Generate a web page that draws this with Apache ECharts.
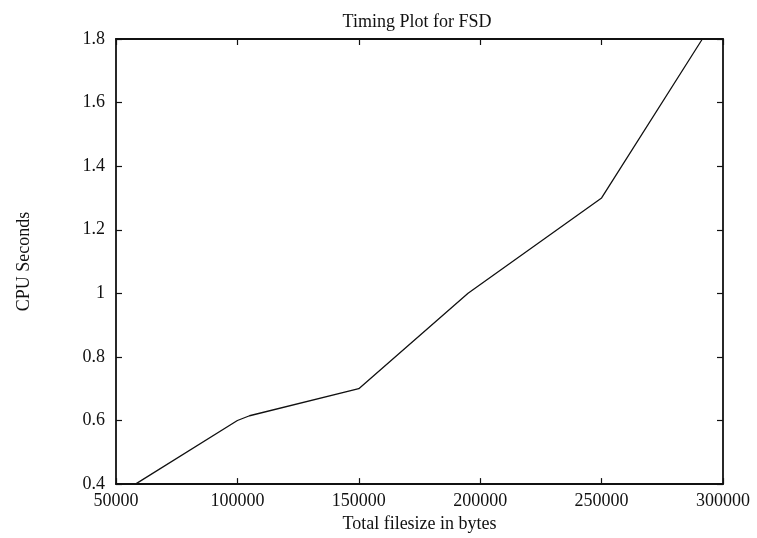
<!DOCTYPE html>
<html>
<head>
<meta charset="utf-8">
<title>Timing Plot for FSD</title>
<script src="https://cdn.jsdelivr.net/npm/echarts@6/dist/echarts.min.js"></script>
<style>
  html, body { margin: 0; padding: 0; background: #fff; }
  #chart { width: 757px; height: 538px; }
</style>
</head>
<body>
<div id="chart"></div>
<script>
// Total file size (bytes) and measured CPU time (seconds)
const fileSizes = [58000, 100000, 105000, 150000, 195000, 250000, 291500];
const cpuSeconds = [0.40, 0.60, 0.615, 0.70, 1.00, 1.30, 1.80];

const xTicks = { min: 50000, max: 300000, interval: 50000 };
const yTicks = { min: 0.4, max: 1.8, interval: 0.2 };

const FONT = '"Liberation Serif", "Times New Roman", serif';
const INK = '#111';

const points = fileSizes.map((x, i) => [x, cpuSeconds[i]]);

const chart = echarts.init(document.getElementById('chart'), null, { renderer: 'canvas' });

const tickStyle = { show: true, inside: true, length: 6, lineStyle: { color: INK, width: 1.2 } };
const frameLine = { show: true, onZero: false, lineStyle: { color: INK, width: 1.8 } };

chart.setOption({
  backgroundColor: '#ffffff',
  animation: false,
  title: {
    text: 'Timing Plot for FSD',
    left: 412,
    textAlign: 'center',
    top: 8,
    textStyle: { fontFamily: FONT, fontSize: 18, fontWeight: 'normal', color: INK }
  },
  grid: { left: 116, right: 34, top: 39, bottom: 48.5, containLabel: false },
  xAxis: [
    {
      type: 'value',
      position: 'bottom',
      min: xTicks.min, max: xTicks.max, interval: xTicks.interval,
      name: 'Total filesize in bytes',
      nameLocation: 'middle',
      nameGap: 25,
      nameTextStyle: { fontFamily: FONT, fontSize: 18, color: INK },
      axisLine: frameLine,
      axisTick: tickStyle,
      axisLabel: {
        margin: 8, fontFamily: FONT, fontSize: 18, color: INK,
        formatter: (v) => String(v)
      },
      splitLine: { show: false }
    },
    {
      type: 'value',
      position: 'top',
      min: xTicks.min, max: xTicks.max, interval: xTicks.interval,
      axisLine: frameLine,
      axisTick: tickStyle,
      axisLabel: { show: false },
      splitLine: { show: false }
    }
  ],
  yAxis: [
    {
      type: 'value',
      position: 'left',
      min: yTicks.min, max: yTicks.max, interval: yTicks.interval,
      name: 'CPU Seconds',
      nameLocation: 'middle',
      nameRotate: 90,
      nameGap: 83,
      nameTextStyle: { fontFamily: FONT, fontSize: 18, color: INK },
      axisLine: frameLine,
      axisTick: tickStyle,
      axisLabel: { margin: 11, fontFamily: FONT, fontSize: 18, color: INK },
      splitLine: { show: false }
    },
    {
      type: 'value',
      position: 'right',
      min: yTicks.min, max: yTicks.max, interval: yTicks.interval,
      axisLine: frameLine,
      axisTick: tickStyle,
      axisLabel: { show: false },
      splitLine: { show: false }
    }
  ],
  series: [
    {
      type: 'line',
      data: points,
      xAxisIndex: 0,
      yAxisIndex: 0,
      showSymbol: false,
      clip: true,
      lineStyle: { color: INK, width: 1.3 },
      emphasis: { disabled: true }
    }
  ]
});
</script>
</body>
</html>
